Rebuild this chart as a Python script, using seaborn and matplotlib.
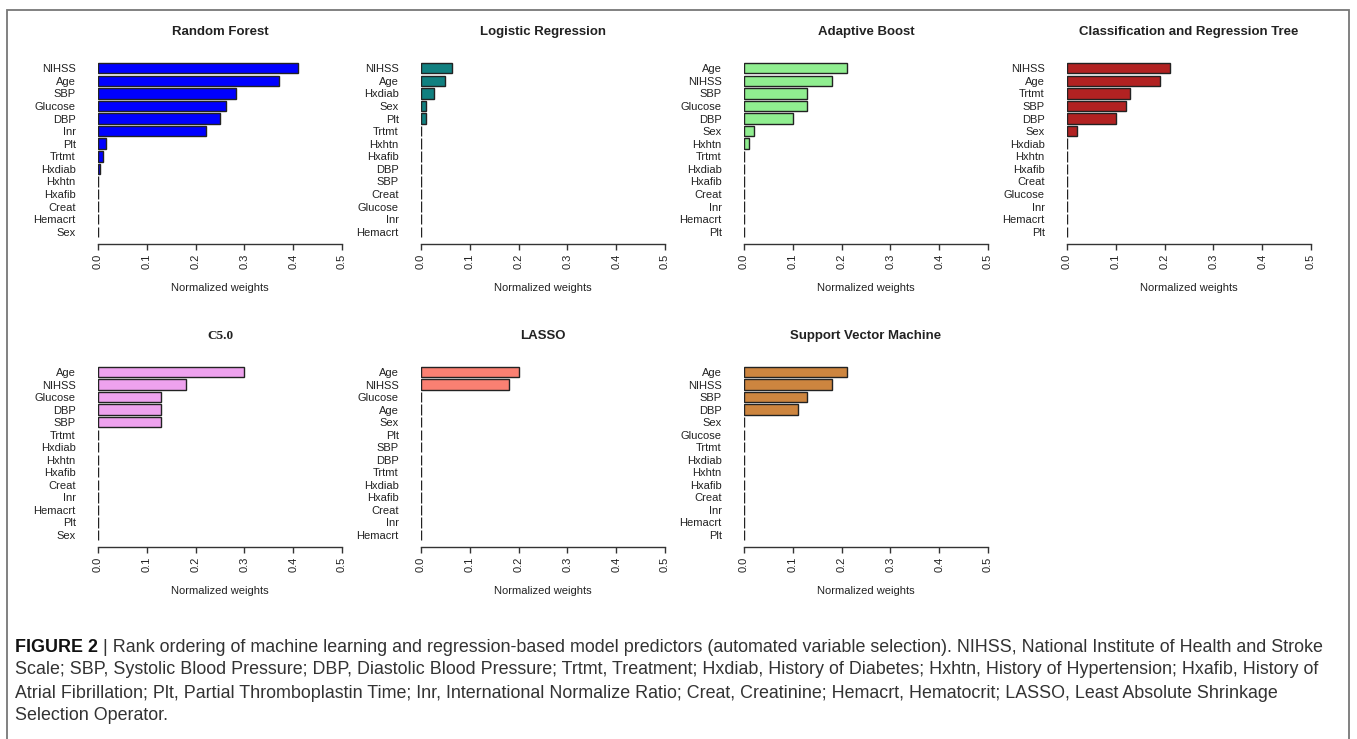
import numpy as np
import seaborn as sns
import matplotlib.pyplot as plt
from matplotlib.patches import Rectangle

# Feature names and normalized weights, one list per model (top to bottom)
rf_labels = ['NIHSS', 'Age', 'SBP', 'Glucose', 'DBP', 'Inr', 'Plt', 'Trtmt', 'Hxdiab', 'Hxhtn', 'Hxafib', 'Creat', 'Hemacrt', 'Sex']
rf_values = [0.41, 0.371, 0.282, 0.262, 0.251, 0.222, 0.017, 0.011, 0.005, 0, 0, 0, 0, 0]

lr_labels = ['NIHSS', 'Age', 'Hxdiab', 'Sex', 'Plt', 'Trtmt', 'Hxhtn', 'Hxafib', 'DBP', 'SBP', 'Creat', 'Glucose', 'Inr', 'Hemacrt']
lr_values = [0.063, 0.049, 0.026, 0.011, 0.0095, 0, 0, 0, 0, 0, 0, 0, 0, 0]

ab_labels = ['Age', 'NIHSS', 'SBP', 'Glucose', 'DBP', 'Sex', 'Hxhtn', 'Trtmt', 'Hxdiab', 'Hxafib', 'Creat', 'Inr', 'Hemacrt', 'Plt']
ab_values = [0.211, 0.18, 0.13, 0.13, 0.101, 0.0205, 0.010, 0, 0, 0, 0, 0, 0, 0]

cart_labels = ['NIHSS', 'Age', 'Trtmt', 'SBP', 'DBP', 'Sex', 'Hxdiab', 'Hxhtn', 'Hxafib', 'Creat', 'Glucose', 'Inr', 'Hemacrt', 'Plt']
cart_values = [0.212, 0.19, 0.13, 0.12, 0.101, 0.021, 0, 0, 0, 0, 0, 0, 0, 0]

c50_labels = ['Age', 'NIHSS', 'Glucose', 'DBP', 'SBP', 'Trtmt', 'Hxdiab', 'Hxhtn', 'Hxafib', 'Creat', 'Inr', 'Hemacrt', 'Plt', 'Sex']
c50_values = [0.30, 0.18, 0.13, 0.13, 0.13, 0, 0, 0, 0, 0, 0, 0, 0, 0]

lasso_labels = ['Age', 'NIHSS', 'Glucose', 'Age', 'Sex', 'Plt', 'SBP', 'DBP', 'Trtmt', 'Hxdiab', 'Hxafib', 'Creat', 'Inr', 'Hemacrt']
lasso_values = [0.20, 0.18, 0, 0, 0, 0, 0, 0, 0, 0, 0, 0, 0, 0]

svm_labels = ['Age', 'NIHSS', 'SBP', 'DBP', 'Sex', 'Glucose', 'Trtmt', 'Hxdiab', 'Hxhtn', 'Hxafib', 'Creat', 'Inr', 'Hemacrt', 'Plt']
svm_values = [0.211, 0.18, 0.13, 0.111, 0, 0, 0, 0, 0, 0, 0, 0, 0, 0]

panels = [
    ('Random Forest', rf_labels, rf_values, '#0000FF'),
    ('Logistic Regression', lr_labels, lr_values, '#118080'),
    ('Adaptive Boost', ab_labels, ab_values, '#90EE90'),
    ('Classification and Regression Tree', cart_labels, cart_values, '#B22222'),
    ('C5.0', c50_labels, c50_values, '#EEA2EE'),
    ('LASSO', lasso_labels, lasso_values, '#FA8072'),
    ('Support Vector Machine', svm_labels, svm_values, '#CD853F'),
]
xticks = [0.0, 0.1, 0.2, 0.3, 0.4, 0.5]

sns.set_theme(style='white')
plt.rcParams['font.family'] = ['Liberation Sans', 'DejaVu Sans']

W, H = 1357, 739
fig = plt.figure(figsize=(W / 100, H / 100), dpi=100)

lefts = [98, 421, 744, 1067]
rows = [(56, 244), (360, 547)]

for i, (title, labels, values, color) in enumerate(panels):
    r, c = divmod(i, 4)
    top, bot = rows[r]
    ax = fig.add_axes([lefts[c] / W, 1 - bot / H, 244 / W, (bot - top) / H])
    pos = np.arange(len(values))
    sns.barplot(x=values, y=pos, orient='h', color=color, width=0.83,
                edgecolor='#222222', linewidth=1, saturation=1, ax=ax)
    ax.set_xlim(0, 0.5)
    ax.set_ylim(13.97, -0.97)
    ax.set_yticks(pos, labels)
    ax.set_xticks(xticks, [f'{t:.1f}' for t in xticks], rotation=90)
    for s in ['left', 'top', 'right']:
        ax.spines[s].set_visible(False)
    ax.spines['bottom'].set_bounds(0, 0.5)
    ax.spines['bottom'].set_color('#333333')
    ax.spines['bottom'].set_linewidth(1)
    ax.tick_params(axis='x', bottom=True, length=4, width=1, color='#333333',
                   labelsize=8, labelcolor='#222222', pad=3)
    ax.tick_params(axis='y', left=False, labelsize=8, labelcolor='#222222', pad=10)
    ax.set_ylabel('')
    ax.set_xlabel('Normalized weights', fontsize=8, color='#222222')
    ax.xaxis.label.set_verticalalignment('top')
    ax.xaxis.set_label_coords(0.5, -(283 - 244) / 188)
    if title == 'C5.0':
        ax.text(0.5, 1 + 24 / 188, title, transform=ax.transAxes, ha='center', va='center',
                fontsize=9.5, fontweight='bold', family=['Liberation Serif', 'DejaVu Serif'], color='#222222')
    else:
        ax.text(0.5, 1 + 24 / 188, title, transform=ax.transAxes, ha='center', va='center',
                fontsize=9.5, fontweight='bold', color='#222222')

# frame around the figure
fig.patches.append(Rectangle((7 / W, -0.01), (1349 - 7) / W, 1 - 10 / H + 0.01,
                             transform=fig.transFigure, fill=False,
                             edgecolor='#777777', linewidth=1.3))

# caption
cap_font = ['Liberation Sans', 'DejaVu Sans']
lines = [
    '| Rank ordering of machine learning and regression-based model predictors (automated variable selection). NIHSS, National Institute of Health and Stroke',
    'Scale; SBP, Systolic Blood Pressure; DBP, Diastolic Blood Pressure; Trtmt, Treatment; Hxdiab, History of Diabetes; Hxhtn, History of Hypertension; Hxafib, History of',
    'Atrial Fibrillation; Plt, Partial Thromboplastin Time; Inr, International Normalize Ratio; Creat, Creatinine; Hemacrt, Hematocrit; LASSO, Least Absolute Shrinkage',
    'Selection Operator.',
]
ys = [647, 670, 693, 716]
cap_size = 12.9
bold = fig.text(15 / W, 1 - ys[0] / H, 'FIGURE 2 ', fontsize=cap_size, fontweight='bold',
                family=cap_font, va='center', ha='left', color='#111111')
fig.canvas.draw()
bb = bold.get_window_extent()
fig.text(bb.x1 / W, 1 - ys[0] / H, lines[0], fontsize=cap_size, family=cap_font,
         va='center', ha='left', color='#333333')
for y, line in zip(ys[1:], lines[1:]):
    fig.text(15 / W, 1 - y / H, line, fontsize=cap_size, family=cap_font,
             va='center', ha='left', color='#333333')

fig.savefig('out.png', dpi=100)
